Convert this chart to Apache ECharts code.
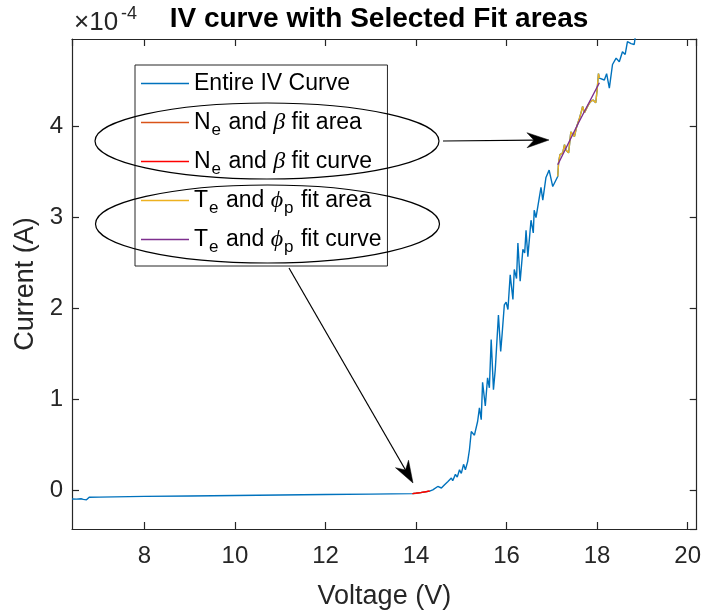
<!DOCTYPE html>
<html>
<head>
<meta charset="utf-8">
<script src="https://cdn.jsdelivr.net/npm/echarts@6/dist/echarts.min.js"></script>
<style>
html,body{margin:0;padding:0;background:#fff;}
#chart{width:704px;height:616px;}
</style>
</head>
<body>
<div id="chart"></div>
<script>
// ---- Data (current in units of 1e-4 A) ----
const voltage = [6.40,6.50,6.60,6.65,6.68,6.72,6.78,7.0,8.0,9.0,10.0,11.0,12.0,13.0,13.92,14.0,14.1,14.2,14.3,14.37,14.48,14.56,14.63,14.70,14.74,14.78,14.81,14.87,14.91,14.96,15.00,15.05,15.09,15.14,15.18,15.22,15.29,15.36,15.40,15.44,15.47,15.53,15.58,15.62,15.66,15.71,15.75,15.82,15.87,15.90,15.95,15.99,16.03,16.08,16.14,16.17,16.22,16.25,16.30,16.36,16.40,16.43,16.47,16.54,16.59,16.61,16.65,16.76,16.80,16.87,16.94,17.02,
17.13,17.15,17.18,17.24,17.28,17.31,17.37,17.42,17.46,17.50,17.55,17.61,17.65,17.68,17.72,17.80,17.85,17.91,17.97,18.00,18.03,18.05,
18.16,18.21,18.27,18.34,18.42,18.49,18.56,18.62,18.67,18.75,18.82,18.86,19.0,19.3,19.6,19.9,20.2];
const currentE4 = [-0.090,-0.092,-0.088,-0.095,-0.080,-0.100,-0.072,-0.070,-0.062,-0.057,-0.052,-0.047,-0.042,-0.037,-0.032,-0.028,-0.020,-0.013,-0.004,0.01,0.047,0.03,0.066,0.10,0.085,0.14,0.11,0.18,0.15,0.23,0.19,0.29,0.23,0.32,0.45,0.65,0.61,0.76,0.91,0.78,1.19,0.93,1.24,1.13,1.66,1.11,1.33,1.93,1.53,1.71,2.04,2.07,1.99,2.37,2.10,2.43,2.33,2.72,2.30,2.65,2.61,2.86,2.57,2.97,2.83,3.08,3.00,3.33,3.19,3.44,3.52,3.34,
3.45,3.61,3.69,3.71,3.80,3.74,3.71,3.94,3.96,3.89,4.00,4.09,4.16,4.22,4.15,4.23,4.27,4.29,4.26,4.40,4.58,4.53,
4.51,4.58,4.42,4.68,4.75,4.71,4.82,4.79,4.93,4.91,4.90,5.05,5.15,5.35,5.55,5.75,5.95];

const neAreaV = [13.92,14.0,14.1,14.2,14.3];
const neAreaI = [-0.032,-0.028,-0.020,-0.013,-0.004];
const neCurveV = [13.92,14.1,14.3];
const neCurveI = [-0.032,-0.020,-0.003];

const teAreaV = [17.13,17.15,17.18,17.24,17.28,17.31,17.37,17.42,17.46,17.50,17.55,17.61,17.65,17.68,17.72,17.80,17.85,17.91,17.97,18.00,18.03,18.05];
const teAreaI = [3.45,3.61,3.69,3.71,3.80,3.74,3.71,3.94,3.96,3.89,4.00,4.09,4.16,4.22,4.15,4.23,4.27,4.29,4.26,4.40,4.58,4.53];
const teCurveV = [17.13,17.59,18.05];
const teCurveI = [3.58,4.04,4.48];

const xTicks = [8,10,12,14,16,18,20];
const yTicks = [0,1,2,3,4];

const seriesNames = ['Entire IV Curve','NeArea','NeCurve','TeArea','TeCurve'];
const legendLabels = {
  'Entire IV Curve': '{t|Entire IV Curve}',
  'NeArea': '{t|N}{s|e}{t| and }{g|β}{t| fit area}',
  'NeCurve': '{t|N}{s|e}{t| and }{g|β}{t| fit curve}',
  'TeArea': '{t|T}{s|e}{t| and }{g|ϕ}{s|p}{t| fit area}',
  'TeCurve': '{t|T}{s|e}{t| and }{g|ϕ}{s|p}{t| fit curve}'
};

const pairs = (a,b) => a.map((v,i)=>[v,b[i]]);
const FONT = 'Liberation Sans, Arial, Helvetica, sans-serif';
const AX = '#262626';

function arrow(x1,y1,x2,y2){
  const dx=x2-x1, dy=y2-y1, L=Math.hypot(dx,dy), ux=dx/L, uy=dy/L, px=-uy, py=ux;
  const len=22, hw=7.5, notch=15;
  const bx=x2-ux*len, by=y2-uy*len;
  const nx=x2-ux*notch, ny=y2-uy*notch;
  return [
    {type:'line', z:100, shape:{x1:x1,y1:y1,x2:nx,y2:ny}, style:{stroke:'#000',lineWidth:1.2}},
    {type:'polygon', z:100, shape:{points:[[x2,y2],[bx+px*hw,by+py*hw],[nx,ny],[bx-px*hw,by-py*hw]]}, style:{fill:'#000',stroke:'#000',lineWidth:0.5}}
  ];
}

const chart = echarts.init(document.getElementById('chart'), null, {renderer:'canvas'});
const axisCommon = {
  type:'value',
  axisLine:{show:true,onZero:false,lineStyle:{color:AX,width:1.2}},
  axisTick:{show:true,inside:true,length:7,lineStyle:{color:AX,width:1.2}},
  splitLine:{show:false}
};
chart.setOption({
  animation:false,
  backgroundColor:'#fff',
  grid:{left:72,right:7,top:39,bottom:87,containLabel:false},
  xAxis:[
    Object.assign({}, axisCommon, {position:'bottom', min:6.4, max:20.2, minInterval:2, maxInterval:2,
      name:'Voltage (V)', nameLocation:'middle', nameGap:54,
      nameTextStyle:{fontFamily:FONT,fontSize:27,color:AX},
      axisLabel:{show:true,margin:15,fontFamily:FONT,fontSize:24,color:AX,showMinLabel:false,showMaxLabel:false,
        formatter:v=>xTicks.some(t=>Math.abs(t-v)<1e-9)?String(Math.round(v)):''}}),
    Object.assign({}, axisCommon, {position:'top', min:6.4, max:20.2, minInterval:2, maxInterval:2, axisLabel:{show:false}})
  ],
  yAxis:[
    Object.assign({}, axisCommon, {position:'left', min:-0.42, max:4.96, minInterval:1, maxInterval:1,
      name:'Current (A)', nameLocation:'middle', nameGap:33, nameRotate:90,
      nameTextStyle:{fontFamily:FONT,fontSize:27,color:AX},
      axisLabel:{show:true,margin:9,fontFamily:FONT,fontSize:24,color:AX,showMinLabel:false,showMaxLabel:false,
        formatter:v=>yTicks.some(t=>Math.abs(t-v)<1e-9)?String(Math.round(v)):''}}),
    Object.assign({}, axisCommon, {position:'right', min:-0.42, max:4.96, minInterval:1, maxInterval:1, axisLabel:{show:false}})
  ],
  legend:{
    orient:'vertical', left:135, top:65, padding:[2,6,10,6], itemGap:6, itemWidth:48, itemHeight:1.4,
    icon:'rect',
    backgroundColor:'#fff', borderColor:AX, borderWidth:1, borderRadius:0,
    data:seriesNames,
    formatter:name=>legendLabels[name],
    textStyle:{fontFamily:FONT,fontSize:23,color:'#000',lineHeight:33,
      rich:{
        t:{fontFamily:FONT,fontSize:23,color:'#000',lineHeight:33},
        s:{fontFamily:FONT,fontSize:17,color:'#000',lineHeight:17,padding:[16,1,0,1]},
        g:{fontFamily:'Liberation Serif, DejaVu Serif, serif',fontStyle:'italic',fontSize:24,color:'#000',lineHeight:33}
      }}
  },
  series:[
    {name:'Entire IV Curve', type:'line', data:pairs(voltage,currentE4), showSymbol:false, symbol:'none', clip:true,
      lineStyle:{color:'#0072BD',width:1.4}, itemStyle:{color:'#0072BD'}, z:2},
    {name:'NeArea', type:'line', data:pairs(neAreaV,neAreaI), showSymbol:false, symbol:'none', clip:true,
      lineStyle:{color:'#D95319',width:1.4}, itemStyle:{color:'#D95319'}, z:3},
    {name:'NeCurve', type:'line', data:pairs(neCurveV,neCurveI), showSymbol:false, symbol:'none', clip:true,
      lineStyle:{color:'#FF0000',width:1.4}, itemStyle:{color:'#FF0000'}, z:4},
    {name:'TeArea', type:'line', data:pairs(teAreaV,teAreaI), showSymbol:false, symbol:'none', clip:true,
      lineStyle:{color:'#EDB120',width:1.4}, itemStyle:{color:'#EDB120'}, z:5},
    {name:'TeCurve', type:'line', data:pairs(teCurveV,teCurveI), showSymbol:false, symbol:'none', clip:true,
      lineStyle:{color:'#7E2F8E',width:1.4}, itemStyle:{color:'#7E2F8E'}, z:6}
  ],
  graphic:[
    {type:'text', z:100, x:379, y:19, style:{text:'IV curve with Selected Fit areas', fontFamily:FONT, fontSize:28, fontWeight:'bold', fill:'#000', align:'center', verticalAlign:'middle'}},
    {type:'text', z:100, x:74, y:23, style:{text:'×10', fontFamily:FONT, fontSize:26, fill:AX, align:'left', verticalAlign:'middle'}},
    {type:'text', z:100, x:121, y:14, style:{text:'-4', fontFamily:FONT, fontSize:18, fill:AX, align:'left', verticalAlign:'middle'}},
    {type:'ellipse', z:100, shape:{cx:267,cy:141,rx:172,ry:38}, style:{fill:null,stroke:'#000',lineWidth:1.2}},
    {type:'ellipse', z:100, shape:{cx:267.5,cy:224,rx:172,ry:39}, style:{fill:null,stroke:'#000',lineWidth:1.2}}
  ].concat(arrow(443,141,549,140)).concat(arrow(289,268,413,483))
});
</script>
</body>
</html>
